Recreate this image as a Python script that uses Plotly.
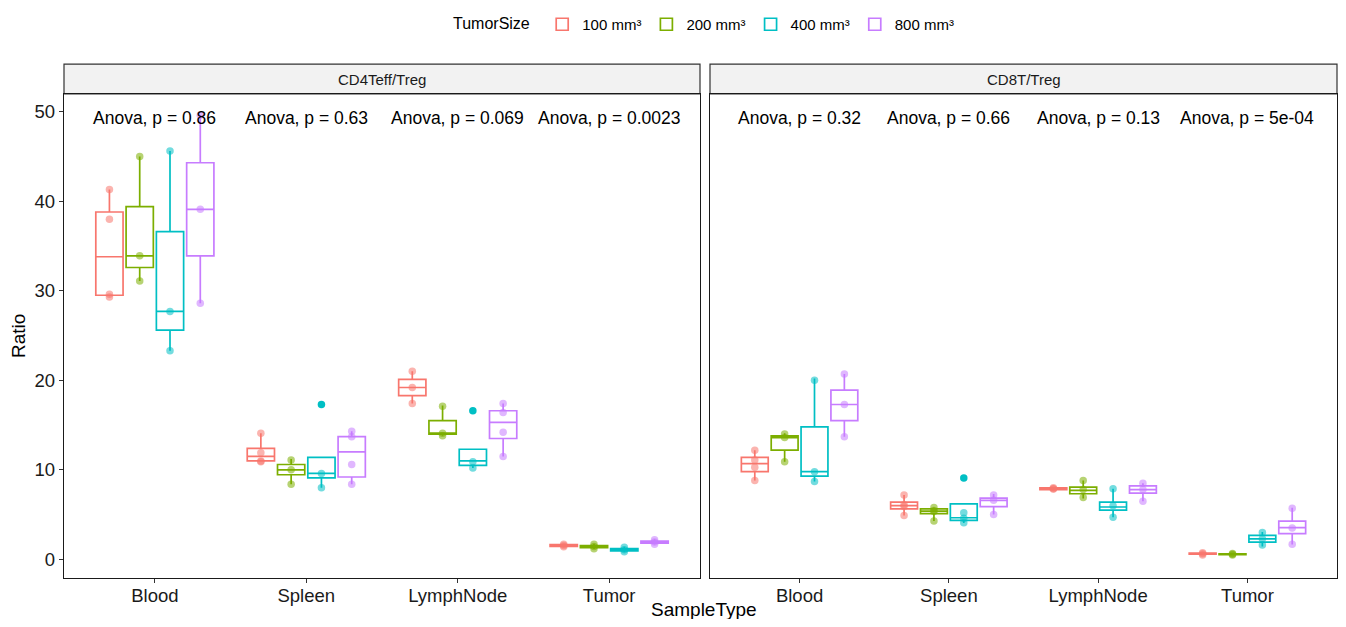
import plotly.graph_objects as go

sample_types = ["Blood", "Spleen", "LymphNode", "Tumor"]
tumor_sizes = ["100 mm³", "200 mm³", "400 mm³", "800 mm³"]
colors = ["#F8766D", "#7CAE00", "#00BFC4", "#C77CFF"]
facets = ["CD4Teff/Treg", "CD8T/Treg"]

# box statistics per facet, per tumour size, per sample type: (lower whisker, q1, median, q3, upper whisker)
cd4_stats = {
    "100 mm³": [(29.4, 29.5, 33.8, 38.8, 41.3), (10.9, 11.0, 11.5, 12.4, 14.1), (17.4, 18.3, 19.2, 20.1, 21.0), (1.35, 1.45, 1.56, 1.65, 1.75)],
    "200 mm³": [(31.1, 32.6, 33.9, 39.4, 45.0), (8.4, 9.45, 10.0, 10.6, 11.2), (13.8, 14.0, 14.1, 15.5, 17.2), (1.15, 1.3, 1.45, 1.55, 1.75)],
    "400 mm³": [(23.3, 25.6, 27.7, 36.6, 45.6), (8.0, 9.1, 9.6, 11.4, 11.4), (10.2, 10.5, 11.0, 12.3, 12.3), (0.8, 0.95, 1.08, 1.2, 1.4)],
    "800 mm³": [(28.6, 33.9, 39.1, 44.3, 49.6), (8.4, 9.2, 12.0, 13.7, 14.3), (11.5, 13.5, 15.3, 16.6, 17.4), (1.65, 1.8, 1.93, 2.05, 2.25)],
}
cd8_stats = {
    "100 mm³": [(8.8, 9.8, 10.7, 11.4, 12.2), (4.9, 5.65, 6.0, 6.4, 7.2), (7.75, 7.8, 7.9, 8.0, 8.05), (0.5, 0.58, 0.64, 0.7, 0.78)],
    "200 mm³": [(10.9, 12.2, 13.6, 13.8, 14.1), (4.3, 5.1, 5.4, 5.65, 5.8), (6.8, 7.33, 7.7, 8.07, 8.8), (0.45, 0.52, 0.56, 0.62, 0.68)],
    "400 mm³": [(8.7, 9.3, 9.8, 14.8, 20.2), (4.05, 4.35, 4.65, 6.2, 6.2), (4.7, 5.5, 5.85, 6.4, 7.9), (1.45, 1.93, 2.3, 2.68, 3.05)],
    "800 mm³": [(13.7, 15.5, 17.3, 18.9, 20.7), (5.0, 5.9, 6.6, 6.85, 7.3), (6.5, 7.4, 7.8, 8.2, 8.5), (1.67, 2.87, 3.54, 4.28, 5.77)],
}

# individual observations (semi-transparent points)
cd4_points = {
    "100 mm³": [[41.3, 38.0, 29.6, 29.3], [14.1, 11.9, 11.0, 10.9], [21.0, 19.2, 17.4], [1.7, 1.55, 1.4]],
    "200 mm³": [[45.0, 33.9, 31.1], [11.1, 10.0, 8.4], [17.1, 14.1, 13.8], [1.7, 1.45, 1.2]],
    "400 mm³": [[45.6, 27.7, 23.3], [9.6, 8.0], [10.9, 10.2], [1.35, 1.08, 0.85]],
    "800 mm³": [[49.6, 39.1, 28.6], [14.3, 13.7, 10.6, 8.4], [17.4, 16.4, 14.2, 11.5], [2.2, 1.95, 1.7]],
}
cd8_points = {
    "100 mm³": [[12.2, 11.1, 10.3, 8.8], [7.2, 6.1, 5.9, 4.9], [8.0, 7.9, 7.85], [0.75, 0.64, 0.5]],
    "200 mm³": [[14.0, 13.6, 10.9], [5.8, 5.45, 5.35, 4.3], [8.8, 7.8, 6.9], [0.65, 0.56, 0.48]],
    "400 mm³": [[20.0, 9.8, 8.7], [5.2, 4.6, 4.1], [7.9, 6.0, 4.7], [3.0, 2.3, 1.6]],
    "800 mm³": [[20.7, 17.3, 13.7], [7.2, 6.6, 5.0], [8.5, 7.8, 6.5], [5.7, 3.5, 1.7]],
}

# outliers (solid points) : {size: {sample_type_index: [values]}}
cd4_outliers = {"400 mm³": {1: [17.3], 2: [16.6]}}
cd8_outliers = {"400 mm³": {1: [9.1]}}

cd4_pvalues = ["Anova, p = 0.86", "Anova, p = 0.63", "Anova, p = 0.069", "Anova, p = 0.0023"]
cd8_pvalues = ["Anova, p = 0.32", "Anova, p = 0.66", "Anova, p = 0.13", "Anova, p = 5e-04"]

y_ticks = [0, 10, 20, 30, 40, 50]

dodge = [-0.3, -0.1, 0.1, 0.3]
box_w = 0.18
FONT = "Liberation Sans, Arial, sans-serif"

# figure geometry (page body has an 8px margin)
FIG_W, FIG_H = 1330, 611
M_L, M_R, M_T, M_B = 56, 1, 85, 41
PLOT_W = FIG_W - M_L - M_R
PLOT_H = FIG_H - M_T - M_B


def rgba(hex_color, a):
    h = hex_color.lstrip("#")
    r, g, b = int(h[0:2], 16), int(h[2:4], 16), int(h[4:6], 16)
    return f"rgba({r},{g},{b},{a})"


fig = go.Figure()

panels = [
    (cd4_stats, cd4_points, cd4_outliers, cd4_pvalues, "x", "y"),
    (cd8_stats, cd8_points, cd8_outliers, cd8_pvalues, "x2", "y2"),
]

for p_i, (stats, points, outliers, pvals, xa, ya) in enumerate(panels):
    for s_i, size in enumerate(tumor_sizes):
        col = colors[s_i]
        xs = [c_i + 1 + dodge[s_i] for c_i in range(len(sample_types))]
        st = stats[size]
        fig.add_trace(go.Box(
            x=xs,
            lowerfence=[v[0] for v in st],
            q1=[v[1] for v in st],
            median=[v[2] for v in st],
            q3=[v[3] for v in st],
            upperfence=[v[4] for v in st],
            width=box_w,
            whiskerwidth=0,
            boxpoints=False,
            fillcolor="white",
            line=dict(color=col, width=1.7),
            name=size,
            legendgroup=size,
            showlegend=(p_i == 0),
            xaxis=xa, yaxis=ya,
        ))
        px, py = [], []
        for c_i, vals in enumerate(points[size]):
            for v in vals:
                px.append(c_i + 1 + dodge[s_i])
                py.append(v)
        fig.add_trace(go.Scatter(
            x=px, y=py, mode="markers",
            marker=dict(color=rgba(col, 0.55), size=7.5, line=dict(width=0)),
            showlegend=False, legendgroup=size, hoverinfo="y",
            xaxis=xa, yaxis=ya,
        ))
        if size in outliers:
            ox, oy = [], []
            for c_i, vals in outliers[size].items():
                for v in vals:
                    ox.append(c_i + 1 + dodge[s_i])
                    oy.append(v)
            fig.add_trace(go.Scatter(
                x=ox, y=oy, mode="markers",
                marker=dict(color=col, size=7.5, line=dict(width=0)),
                showlegend=False, legendgroup=size, hoverinfo="y",
                xaxis=xa, yaxis=ya,
            ))

annotations = []
for p_i, (_, _, _, pvals, xa, ya) in enumerate(panels):
    for c_i, t in enumerate(pvals):
        annotations.append(dict(
            x=c_i + 1, y=49.3, xref=xa, yref=ya, text=t, showarrow=False,
            font=dict(family=FONT, size=17.5, color="black"), yanchor="middle",
        ))

strip_top = 1 + 30 / PLOT_H
shapes = []
for p_i, xa in enumerate(["x", "x2"]):
    shapes.append(dict(
        type="rect", xref=f"{xa} domain", yref="paper", x0=0, x1=1, y0=1, y1=strip_top,
        fillcolor="#F2F2F2", line=dict(color="#333333", width=1.2), layer="below",
    ))
    annotations.append(dict(
        x=0.5, y=(1 + strip_top) / 2, xref=f"{xa} domain", yref="paper",
        text=facets[p_i], showarrow=False, yanchor="middle",
        font=dict(family=FONT, size=15, color="#1a1a1a"),
    ))

annotations.append(dict(
    x=(704 - 64) / PLOT_W, y=-(602 - (M_T + PLOT_H)) / PLOT_H, xref="paper", yref="paper",
    text="SampleType", showarrow=False,
    yanchor="middle", font=dict(family=FONT, size=19, color="black"),
))
annotations.append(dict(
    x=(10 - M_L) / PLOT_W, y=0.5, xref="paper", yref="paper", text="Ratio", showarrow=False,
    textangle=-90, xanchor="center", yanchor="middle",
    font=dict(family=FONT, size=19, color="black"),
))

xaxis_common = dict(
    range=[0.4, 4.6], tickvals=[1, 2, 3, 4], ticktext=sample_types,
    showgrid=False, zeroline=False, showline=True, mirror=True,
    linecolor="#1a1a1a", linewidth=1.3, ticks="outside", ticklen=4,
    tickcolor="#333333", tickwidth=1.1, ticklabelstandoff=-3,
    tickfont=dict(family=FONT, size=18.5, color="#1a1a1a"),
)

fig.update_layout(
    width=FIG_W, height=FIG_H, autosize=False,
    margin=dict(l=M_L, r=M_R, t=M_T, b=M_B),
    paper_bgcolor="white", plot_bgcolor="white",
    boxmode="overlay",
    xaxis=dict(domain=[0, 636 / PLOT_W], anchor="y", **xaxis_common),
    xaxis2=dict(domain=[646 / PLOT_W, 1], anchor="y2", **xaxis_common),
    yaxis=dict(
        range=[-2.08, 51.98], tickvals=y_ticks, showgrid=False, zeroline=False,
        showline=True, mirror=True, linecolor="#1a1a1a", linewidth=1.3,
        ticks="outside", ticklen=4, tickcolor="#333333", tickwidth=1.1,
        tickfont=dict(family=FONT, size=18.5, color="#1a1a1a"), anchor="x",
    ),
    yaxis2=dict(
        matches="y", range=[-2.08, 51.98], showgrid=False, zeroline=False,
        showline=True, mirror=True, linecolor="#1a1a1a", linewidth=1.3,
        showticklabels=False, ticks="", anchor="x2",
    ),
    legend=dict(
        orientation="h", x=(705 - 64) / PLOT_W, xanchor="center",
        y=1 + M_T / PLOT_H, yanchor="top",
        title=dict(text="TumorSize ", font=dict(family=FONT, size=16, color="black")),
        font=dict(family=FONT, size=15, color="black"),
        itemwidth=30, tracegroupgap=0,
    ),
    shapes=shapes,
    annotations=annotations,
    showlegend=True,
)

fig.write_html("out.html")
